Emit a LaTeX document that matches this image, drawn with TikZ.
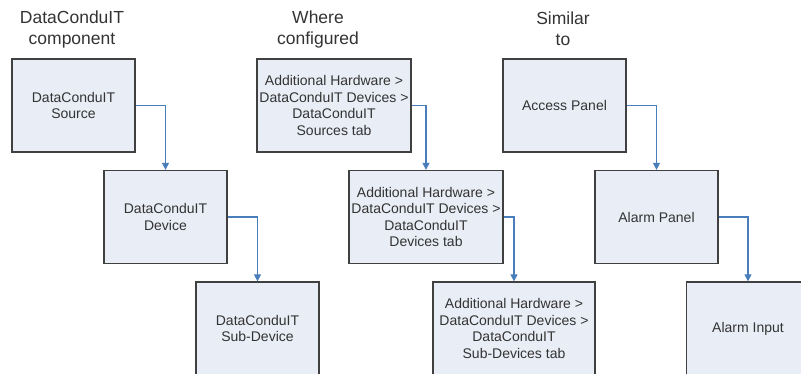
\documentclass[tikz,border=0pt]{standalone}
\usepackage{fontspec}
\setmainfont{Liberation Sans}
\usetikzlibrary{arrows.meta}
\definecolor{boxfill}{RGB}{233,237,246}
\definecolor{boxline}{RGB}{64,64,64}
\definecolor{linkblue}{RGB}{74,126,187}
\definecolor{inktext}{RGB}{51,51,51}

\begin{document}
\begin{tikzpicture}[x = 1pt, y = -1pt,
  comp/.style = {draw = boxline, line width = 1.3pt, fill = boxfill, minimum width = 123pt, minimum height = 93pt, inner sep = 0pt, align = center, text = inktext, font = \fontsize{14}{16.5}\selectfont},
  cfg/.style = {comp, minimum width = 154pt},
  head/.style = {align = center, text = inktext, font = \fontsize{17.5}{21}\selectfont},
  link/.style = {draw = linkblue, line width = 1.3pt, -{Triangle[width = 7pt, length = 7pt]}}]
  \clip (0, 0) rectangle (801, 374);
  % column headings
  \node[head] (h-comp) at (72, 29) {DataConduIT\\component};
  \node[head] (h-where) at (318, 29) {Where\\configured};
  \node[head] (h-similar) at (563, 29) {Similar\\to};
  % DataConduIT components
  \node[comp] (source) at (73.5, 105.5) {DataConduIT\\Source};
  \node[comp] (device) at (165.5, 217) {DataConduIT\\Device};
  \node[comp] (subdevice) at (257.5, 328.5) {DataConduIT\\Sub-Device};
  % where configured
  \node[cfg] (cfg-source) at (334, 105.5) {Additional Hardware >\\DataConduIT Devices >\\DataConduIT\\Sources tab};
  \node[cfg] (cfg-device) at (426, 217) {Additional Hardware >\\DataConduIT Devices >\\DataConduIT\\Devices tab};
  \node[cfg, minimum width = 162pt] (cfg-subdevice) at (514, 328.5) {Additional Hardware >\\DataConduIT Devices >\\DataConduIT\\Sub-Devices tab};
  % similar to
  \node[comp] (access) at (564.5, 105.5) {Access Panel};
  \node[comp] (alarm-panel) at (656.5, 217) {Alarm Panel};
  \node[comp] (alarm-input) at (748, 328.5) {Alarm Input};
  % links
  \draw[link] (source.east) -| (device.north);
  \draw[link] (device.east) -| (subdevice.north);
  \draw[link] (cfg-source.east) -| (cfg-device.north);
  \draw[link] (cfg-device.east) -| (cfg-subdevice.north);
  \draw[link] (access.east) -| (alarm-panel.north);
  \draw[link] (alarm-panel.east) -| (alarm-input.north);
\end{tikzpicture}
\end{document}
